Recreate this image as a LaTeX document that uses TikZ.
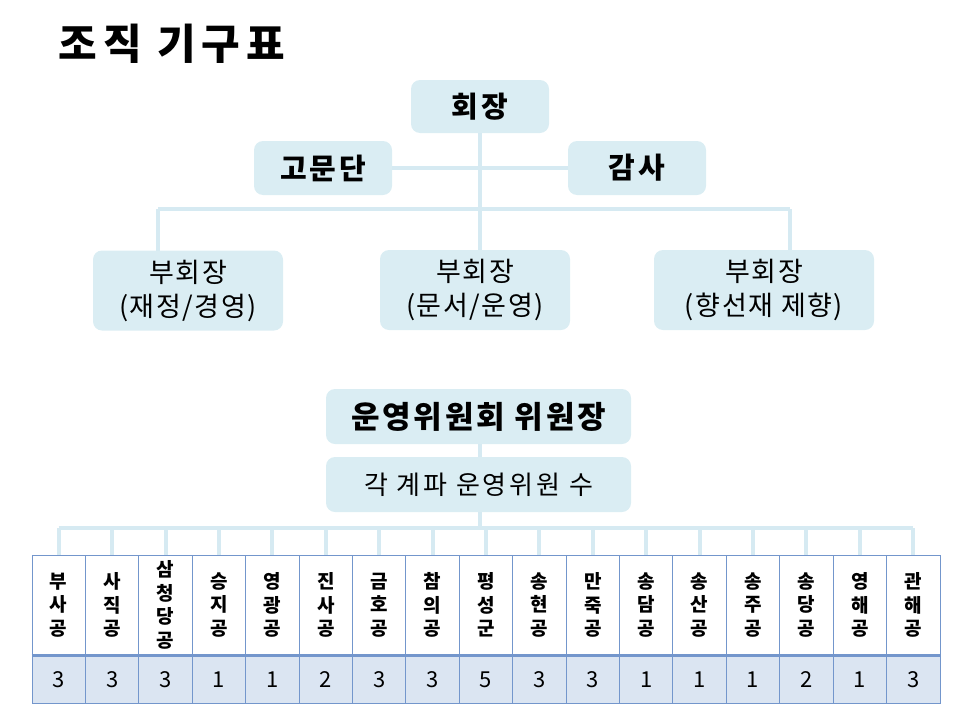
\documentclass[tikz,border=0pt]{standalone}
\usepackage{fontspec}
\setmainfont{Noto Sans CJK KR}
\setsansfont{Noto Sans CJK KR}
\usetikzlibrary{calc}
\definecolor{boxfill}{RGB}{218,237,243}
\definecolor{conn}{RGB}{214,234,242}
\definecolor{grid}{RGB}{115,150,204}
\definecolor{valfill}{RGB}{219,229,242}
\tikzset{
  orgbox/.style={fill=boxfill, rounded corners=9pt, inner sep=0pt, align=center},
  connector/.style={draw=conn, line width=4pt},
  headcell/.style={draw=grid, line width=0.9pt, fill=white, minimum width=53.41pt, minimum height=100pt, inner sep=0pt, align=center, font=\fontsize{19}{23.5}\selectfont\bfseries},
  valcell/.style={draw=grid, line width=0.9pt, fill=valfill, minimum width=53.41pt, minimum height=48pt, inner sep=0pt, font=\fontsize{22}{24}\selectfont},
  topbox/.style={orgbox, minimum width=138pt, minimum height=54pt, font=\fontsize{29}{30}\selectfont\bfseries\addfontfeatures{LetterSpace=10}},
  vpbox/.style={orgbox, minimum height=80pt, font=\fontsize{27}{34}\selectfont\addfontfeatures{LetterSpace=6}},
}
\begin{document}
\begin{tikzpicture}[x=1pt,y=-1pt]
\path[use as bounding box] (0,0) rectangle (960,720);

\node[anchor=west, font=\fontsize{42}{44}\selectfont\bfseries\addfontfeatures{LetterSpace=14}] (title) at (55,44) {조직 기구표};

% connectors of the top part (drawn first, boxes on top)
\coordinate (bar1) at (480,209);
\coordinate (d1) at (158,209);
\coordinate (d2) at (480,209);
\coordinate (d3) at (790,209);
\coordinate (ceoS) at (480,130);
\coordinate (advE) at (390,168);
\coordinate (audW) at (570,168);
\draw[connector] (ceoS) -- (bar1);
\draw[connector] (advE) -- (audW);
\draw[connector] (d1) -- (d3);
\draw[connector] (d1) -- (158,252);
\draw[connector] (d2) -- (480,252);
\draw[connector] (d3) -- (790,252);

% top boxes
\node[topbox, minimum height=53pt] (ceo) at (480,106.5) {회장};
\node[topbox] (adv) at (323,168) {고문단};
\node[topbox] (aud) at (637,168) {감사};

\node[vpbox, minimum width=190pt] (vp1) at (188,290.5) {부회장\\(재정/경영)};
\node[vpbox, minimum width=190pt] (vp2) at (475,290) {부회장\\(문서/운영)};
\node[vpbox, minimum width=220pt] (vp3) at (764,290) {부회장\\(향선재 제향)};

% committee
\coordinate (bar2) at (480,528);
\draw[connector] (480,440) -- (480,460);
\draw[connector] (480,508) -- (bar2);
\node[orgbox, minimum width=305pt, minimum height=55pt, font=\fontsize{31}{32}\selectfont\bfseries\addfontfeatures{LetterSpace=9}] (chair) at (478.5,416.5) {운영위원회 위원장};
\node[orgbox, minimum width=305pt, minimum height=55pt, font=\fontsize{26}{28}\selectfont\addfontfeatures{LetterSpace=11}] (sub) at (478.5,484.5) {각 계파 운영위원 수};

% table
\foreach \nm/\vl [count=\i] in {{부\\사\\공}/3,{사\\직\\공}/3,{삼\\청\\당\\공}/3,{승\\지\\공}/1,{영\\광\\공}/1,{진\\사\\공}/2,{금\\호\\공}/3,{참\\의\\공}/3,{평\\성\\군}/5,{송\\현\\공}/3,{만\\죽\\공}/3,{송\\담\\공}/1,{송\\산\\공}/1,{송\\주\\공}/1,{송\\당\\공}/2,{영\\해\\공}/1,{관\\해\\공}/3}{
  \pgfmathsetmacro{\cx}{32+53.41*(\i-0.5)}
  \node[headcell] (h\i) at (\cx,605) {\nm};
  \node[valcell, anchor=north] (v\i) at (h\i.south) {\vl};
}
\draw[grid, line width=2.6pt] (h1.south west) -- (h17.south east);
\draw[connector] (h1.north |- bar2) -- (h17.north |- bar2);
\foreach \i in {1,...,17}{
  \draw[connector] (h\i.north |- bar2) -- ([yshift=-0.6pt]h\i.north);
}
\end{tikzpicture}
\end{document}
